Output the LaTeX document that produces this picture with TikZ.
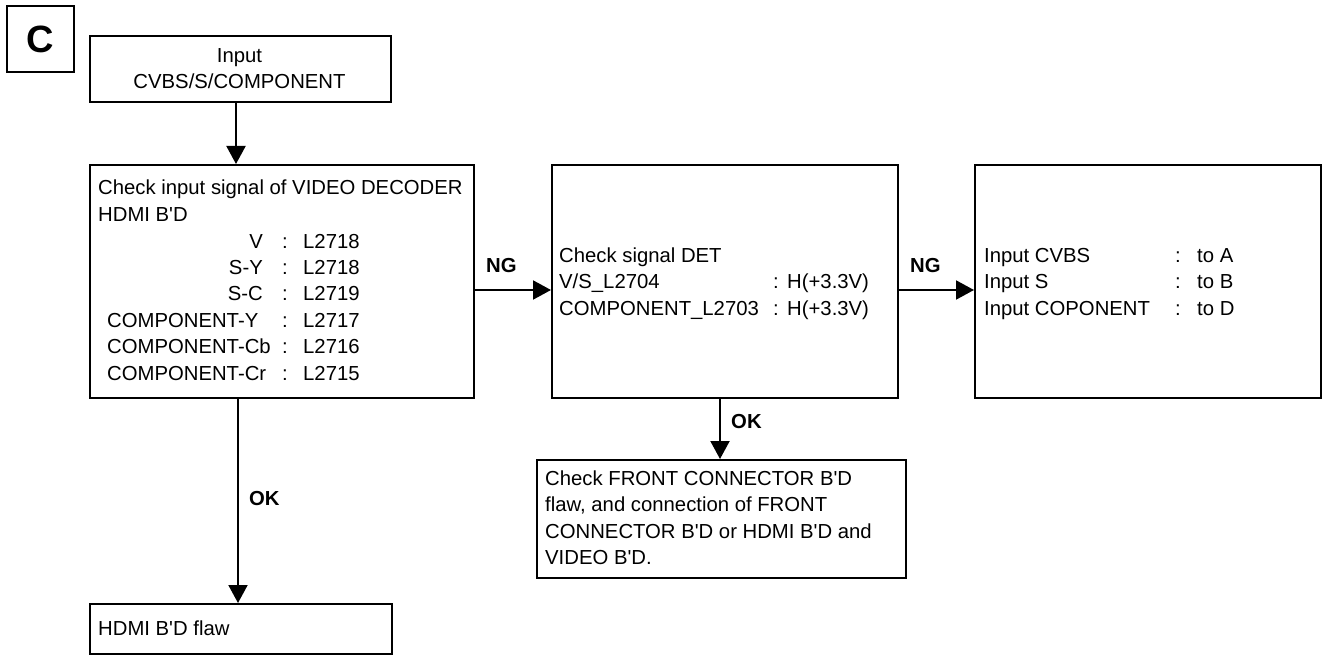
\documentclass[tikz,border=0pt]{standalone}
\usepackage{fontspec}
\setmainfont{Liberation Sans}
\usetikzlibrary{arrows.meta}
\newcommand\qs{\textquotesingle}
\begin{document}
\begin{tikzpicture}[x=1pt,y=-1pt,
  box/.style={draw,line width=2pt,inner sep=0pt,anchor=north west},
  txt/.style={inner sep=0pt,anchor=base west,font=\fontsize{20.3}{26.5}\selectfont},
  txtr/.style={txt,anchor=base east},
  lbl/.style={txt,font=\fontsize{20.3}{26.5}\selectfont\bfseries},
  arr/.style={line width=2pt,-{Triangle[length=18pt,width=19pt]}}]
\useasboundingbox (0,0) rectangle (1325,655);

% boxes
\node[box,minimum width=67pt,minimum height=66pt] (cbox) at (6,5) {};
\node[inner sep=0pt,font=\fontsize{38}{40}\selectfont\bfseries] (clab) at (cbox.center) {C};
\node[box,minimum width=301pt,minimum height=66pt] (inp) at (89,35) {};
\node[box,minimum width=384pt,minimum height=233pt] (chk) at (89,164) {};
\node[box,minimum width=346pt,minimum height=233pt] (det) at (551,164) {};
\node[box,minimum width=346pt,minimum height=233pt] (res) at (974,164) {};
\node[box,minimum width=369pt,minimum height=118pt] (front) at (536,459) {};
\node[box,minimum width=302pt,minimum height=50pt] (flaw) at (89,603) {};

% input box text
\node[txt,anchor=base] (inp1) at (239.5,63) {Input};
\node[txt,anchor=base] (inp2) at (239.5,89) {CVBS/S/COMPONENT};

% check box text
\node[txt] (c1) at (98,195) {Check input signal of VIDEO DECODER};
\node[txt] (c2) at (98,221.5) {HDMI B\qs D};
\node[txtr] (r1l) at (263,248) {V};
\node[txtr] (r2l) at (263,274.4) {S-Y};
\node[txtr] (r3l) at (263,300.8) {S-C};
\node[txt] (r4l) at (107,327.2) {COMPONENT-Y};
\node[txt] (r5l) at (107,353.6) {COMPONENT-Cb};
\node[txt] (r6l) at (107,380) {COMPONENT-Cr};
\foreach \y/\v [count=\i] in {248/L2718,274.4/L2718,300.8/L2719,327.2/L2717,353.6/L2716,380/L2715}{
  \node[txt] (rc\i) at (282,\y) {:};
  \node[txt] (rv\i) at (303,\y) {\v};
}

% det box text
\node[txt] (d1) at (559,262) {Check signal DET};
\node[txt] (d2) at (559,288.5) {V/S\_L2704};
\node[txt] (d3) at (559,315) {COMPONENT\_L2703};
\node[txt] (d2c) at (773,288.5) {:};
\node[txt] (d3c) at (773,315) {:};
\node[txt] (d2v) at (787,288.5) {H(+3.3V)};
\node[txt] (d3v) at (787,315) {H(+3.3V)};

% result box text
\node[txt] (e1) at (984,262) {Input CVBS};
\node[txt] (e2) at (984,288.5) {Input S};
\node[txt] (e3) at (984,315) {Input COPONENT};
\node[txt] (e1c) at (1175,262) {:};
\node[txt] (e2c) at (1175,288.5) {:};
\node[txt] (e3c) at (1175,315) {:};
\node[txt] (e1v) at (1197,262) {to A};
\node[txt] (e2v) at (1197,288.5) {to B};
\node[txt] (e3v) at (1197,315) {to D};

% front box text
\node[txt] (f1) at (545,485) {Check FRONT CONNECTOR B\qs D};
\node[txt] (f2) at (545,511.5) {flaw, and connection of FRONT};
\node[txt] (f3) at (545,538) {CONNECTOR B\qs D or HDMI B\qs D and};
\node[txt] (f4) at (545,564.5) {VIDEO B\qs D.};

% flaw box text
\node[txt] (g1) at (98,635) {HDMI B\qs D flaw};

% connectors
\draw[arr] ([xshift=-4.5pt]inp.south) -- ([xshift=-4.5pt]inp.south |- chk.north);
\draw[arr] (chk.east |- 0,290) -- (det.west |- 0,290);
\draw[arr] (det.east |- 0,290) -- (res.west |- 0,290);
\draw[arr] (det.south -| 720,0) -- (front.north -| 720,0);
\draw[arr] (chk.south -| 238,0) -- (flaw.north -| 238,0);

% labels
\node[lbl] (ng1) at (486,272) {NG};
\node[lbl] (ng2) at (910,272) {NG};
\node[lbl] (ok1) at (731,428) {OK};
\node[lbl] (ok2) at (249,505) {OK};
\end{tikzpicture}
\end{document}
